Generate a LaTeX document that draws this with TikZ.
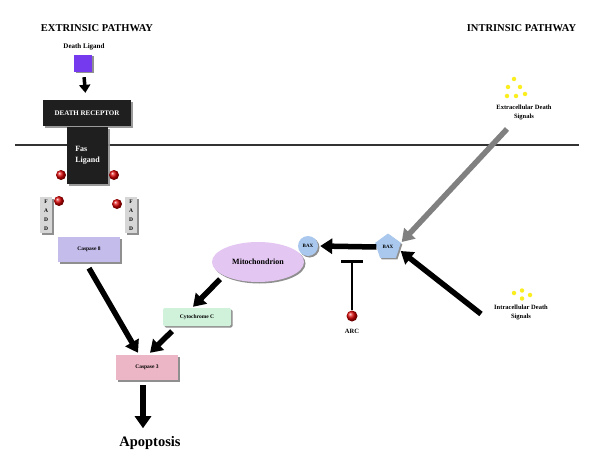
\documentclass[tikz,border=0pt]{standalone}
\usepackage{fontspec}
\setmainfont{Liberation Serif}
\usetikzlibrary{arrows.meta,shapes.geometric,shadows}
\definecolor{ligand}{RGB}{118,58,238}
\definecolor{casp8}{RGB}{196,188,235}
\definecolor{mito}{RGB}{228,198,242}
\definecolor{baxc}{RGB}{170,200,238}
\definecolor{cyto}{RGB}{208,242,218}
\definecolor{casp3}{RGB}{236,182,198}
\definecolor{faddc}{RGB}{214,214,214}
\definecolor{dot}{RGB}{250,238,30}
\begin{document}
\begin{tikzpicture}[x=1pt,y=-1pt,
  title/.style={font=\bfseries\fontsize{10.5}{12}\selectfont},
  lbl/.style={font=\bfseries\fontsize{6.5}{8.5}\selectfont, align=center, inner sep=0},
  box/.style={draw=none, inner sep=0, drop shadow={shadow xshift=1.5pt, shadow yshift=-1.5pt, fill=black!55, opacity=.8}},
  blackbox/.style={box, fill=black!88, text=white, drop shadow={shadow xshift=1.5pt, shadow yshift=-1.5pt, fill=black!35}},
  fat/.style={line width=5.5pt, -{Triangle[width=15pt,length=12pt]}},
  ball/.style={circle, inner sep=0, minimum size=10pt, shading=ball, ball color=red!85!black},
  ydot/.style={circle, inner sep=0, minimum size=4.5pt, fill=dot},
  fadd/.style={box, fill=faddc, minimum width=12pt, minimum height=36pt, align=center, font=\bfseries\fontsize{5.5}{9}\selectfont},
  bax/.style={box, fill=baxc, font=\bfseries\fontsize{5}{5}\selectfont},
]
\useasboundingbox (0,0) rectangle (601,468);
\fill[white] (0,0) rectangle (601,468);

% titles
\node[title] (ext) at (97,28) {EXTRINSIC PATHWAY};
\node[title] (int) at (521.5,28) {INTRINSIC PATHWAY};

% extrinsic
\node[lbl, font=\bfseries\fontsize{7}{8}\selectfont] (dl) at (84,47) {Death Ligand};
\node[box, fill=ligand, minimum width=18pt, minimum height=17pt] (lig) at (83,63.5) {};
\node[blackbox, minimum width=88pt, minimum height=26pt, font=\bfseries\fontsize{7}{8}\selectfont] (dr) at (87,113) {DEATH RECEPTOR};
\draw[line width=2pt, black!80] (15,145) -- (579,145);
\node[blackbox, minimum width=41pt, minimum height=57pt, align=left, font=\bfseries\fontsize{8}{11}\selectfont] (fas) at (87.5,155.5) {Fas\\Ligand};
\draw[line width=3.5pt, -{Triangle[width=11pt,length=8pt]}, shorten <=5pt, shorten >=7pt] (lig) -- (dr);

\node[ball] (b1) at (61,175) {};
\node[ball] (b2) at (114,175) {};
\node[ball] (b3) at (59,201) {};
\node[ball] (b4) at (117,204) {};

\node[fadd] (f1) at (46,215) {F\\A\\D\\D};
\node[fadd] (f2) at (131,215) {F\\A\\D\\D};

\node[box, fill=casp8, minimum width=62pt, minimum height=25pt, font=\bfseries\fontsize{5.5}{6}\selectfont] (c8) at (89,249.5) {Caspase 8};

% intrinsic
\node[box, ellipse, fill=mito, minimum width=92pt, minimum height=40pt, font=\bfseries\fontsize{8}{9}\selectfont] (mito) at (258,262) {Mitochondrion};
\node[bax, circle, minimum size=20pt] (baxc) at (308,246) {BAX};
\node[bax, regular polygon, regular polygon sides=5, minimum size=27pt] (baxp) at (388,247) {BAX};
\node[box, fill=cyto, minimum width=68pt, minimum height=18pt, rounded corners=1.5pt, font=\bfseries\fontsize{5.5}{6}\selectfont] (cyto) at (197,317) {Cytochrome C};
\node[box, fill=casp3, minimum width=62pt, minimum height=25pt, font=\bfseries\fontsize{5.5}{6}\selectfont] (c3) at (147,367.5) {Caspase 3};
\node[font=\bfseries\fontsize{14.5}{16}\selectfont, inner sep=0] (apo) at (150,443) {Apoptosis};

\node[ball, minimum size=11pt] (arcb) at (352,316) {};
\node[lbl] (arc) at (352,331) {ARC};
\coordinate (bar) at (352,260);

% signals
\node[ydot] (y1) at (514,79) {};
\node[ydot] (y2) at (508,87) {};
\node[ydot] (y3) at (520,87) {};
\node[ydot] (y4) at (507,96) {};
\node[ydot] (y5) at (516,96) {};
\node[ydot] (y6) at (525,94) {};
\node[lbl] (exs) at (524,112.5) {Extracellular Death\\Signals};
\node[ydot] (z1) at (514,293) {};
\node[ydot] (z2) at (522,290.5) {};
\node[ydot] (z3) at (530,295) {};
\node[ydot] (z4) at (522,298.5) {};
\node[lbl] (ins) at (521,312.5) {Intracellular Death\\Signals};
\coordinate (exstart) at (507,129);
\coordinate (instart) at (481,314);

% connectors
\draw[fat, draw=black!50, fill=black!55] (exstart) -- ([xshift=2pt,yshift=5pt]baxp.east);
\draw[fat] (instart) -- ([xshift=1pt,yshift=-4pt]baxp.east);
\draw[fat] (baxp.west) -- ([xshift=2pt]baxc.east);
\draw[line width=2pt, -{Bar[width=22pt,line width=3pt]}] (arcb.north) -- (bar);
\draw[fat] ([xshift=-38pt,yshift=3pt]mito.south) -- ([xshift=-4pt,yshift=1pt]cyto.north);
\draw[fat] ([xshift=-25pt,yshift=-5pt]cyto.south) -- ([xshift=3pt,yshift=2pt]c3.north);
\draw[fat] ([yshift=-6pt]c8.south) -- ([xshift=-9pt,yshift=2pt]c3.north);
\draw[line width=6pt, -{Triangle[width=16pt,length=12pt]}] ([xshift=-4pt,yshift=-5pt]c3.south) -- ([xshift=-7pt,yshift=8pt]apo.north);
\end{tikzpicture}
\end{document}
